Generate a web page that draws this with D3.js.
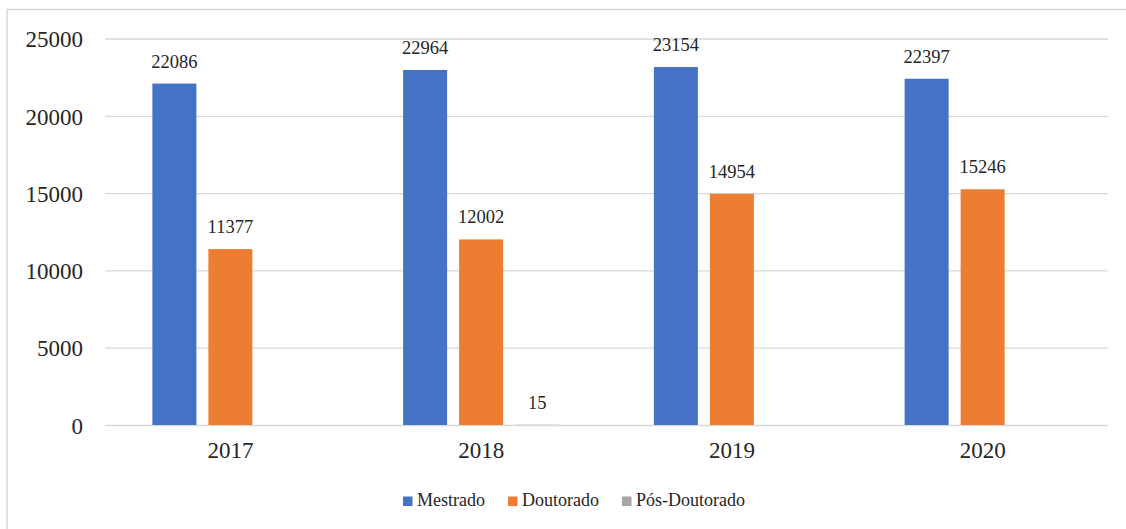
<!DOCTYPE html>
<html><head><meta charset="utf-8">
<script src="https://cdn.jsdelivr.net/npm/d3@7/dist/d3.min.js"></script>
<style>body{margin:0;background:#fff}svg{display:block}</style>
</head><body><svg id="c" width="1126" height="529"></svg>
<script>
const categories = ["2017","2018","2019","2020"];
const seriesNames = ["Mestrado","Doutorado","Pós-Doutorado"];
const mestrado = [22086,22964,23154,22397];
const doutorado = [11377,12002,14954,15246];
const posDoutorado = [null,15,null,null];
const yTicks = [0,5000,10000,15000,20000,25000];
const colors = ["#4472C4","#ED7D31","#A5A5A5"];

const FONT = "'Liberation Serif', 'Times New Roman', serif";
const series = [mestrado, doutorado, posDoutorado];
const svg = d3.select("#c");
const L=105, R=1108, T=38.5, B=425;

svg.append("rect").attr("x",7).attr("y",9.5).attr("width",1130).attr("height",530)
  .attr("fill","none").attr("stroke","#d9d9d9").attr("stroke-width",1.5);

const x = d3.scaleBand().domain(categories).range([L,R]);
const x1 = d3.scaleBand().domain(seriesNames).range([0,156]).paddingInner(12/56).paddingOuter(0);
const y = d3.scaleLinear().domain([0,25000]).range([B,T]);

const yAxis = svg.append("g").attr("transform",`translate(${L},0)`)
  .call(d3.axisLeft(y).tickValues(yTicks).tickSize(-(R-L)).tickPadding(22).tickFormat(d3.format("d")));
yAxis.attr("font-family",null).attr("font-size",null);
yAxis.select(".domain").remove();
yAxis.selectAll("line").attr("stroke","#d9d9d9").attr("stroke-width",1.3);
yAxis.selectAll("text").attr("dy","0.36em").style("font-family",FONT).style("font-size","23px").style("fill","#262626");

const xAxis = svg.append("g").attr("transform",`translate(0,${B})`)
  .call(d3.axisBottom(x).tickSize(0).tickPadding(17));
xAxis.attr("font-family",null).attr("font-size",null);
xAxis.select(".domain").remove();
xAxis.selectAll("text").style("font-family",FONT).style("font-size","23px").style("fill","#262626");

const groups = svg.append("g").selectAll("g").data(categories).join("g")
  .attr("transform",d=>`translate(${x(d)+(x.bandwidth()-156)/2},0)`);

seriesNames.forEach((s,si)=>{
  groups.each(function(c,ci){
    const v = series[si][ci];
    if(v==null) return;
    const g = d3.select(this);
    g.append("rect").attr("x",x1(s)).attr("width",x1.bandwidth())
      .attr("y",y(v)).attr("height",B-y(v)).attr("fill",colors[si]);
    g.append("text").attr("x",x1(s)+x1.bandwidth()/2).attr("y",y(v)-16)
      .attr("text-anchor","middle").style("font-family",FONT).style("font-size","18.5px").style("fill","#262626").text(v);
  });
});

const legX = [403,508,622];
const leg = svg.append("g");
seriesNames.forEach((s,i)=>{
  leg.append("rect").attr("x",legX[i]).attr("y",496.5).attr("width",9.5).attr("height",9.5).attr("fill",colors[i]);
  leg.append("text").attr("x",legX[i]+14).attr("y",506).style("font-family",FONT).style("font-size","18px").style("fill","#262626").text(s);
});
</script></body></html>
